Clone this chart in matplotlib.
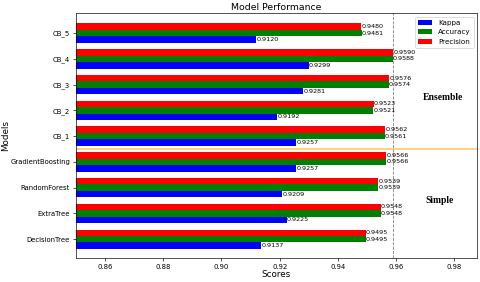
import numpy as np
import matplotlib
matplotlib.use('Agg')
import matplotlib.pyplot as plt

models = ['DecisionTree', 'ExtraTree', 'RandomForest', 'GradientBoosting',
          'CB_1', 'CB_2', 'CB_3', 'CB_4', 'CB_5']
kappa = [0.9137, 0.9225, 0.9209, 0.9257, 0.9257, 0.9192, 0.9281, 0.9299, 0.9120]
accuracy = [0.9495, 0.9548, 0.9539, 0.9566, 0.9561, 0.9521, 0.9574, 0.9588, 0.9481]
precision = [0.9495, 0.9548, 0.9539, 0.9566, 0.9562, 0.9523, 0.9576, 0.9590, 0.9480]

y = np.arange(len(models))
h = 0.25

plt.rcParams['font.size'] = 8.3
fig, ax = plt.subplots(figsize=(8, 4.7), dpi=60)

b1 = ax.barh(y - h, kappa, h, color='blue', label='Kappa')
b2 = ax.barh(y, accuracy, h, color='green', label='Accuracy')
b3 = ax.barh(y + h, precision, h, color='red', label='Precision')

for bars in (b1, b2, b3):
    for bar in bars:
        w = bar.get_width()
        ax.text(w, bar.get_y() + bar.get_height() / 2, '%.4f' % w,
                va='center', ha='left', fontsize=7.6)

best = max(precision)
ax.axvline(best, color='gray', linestyle='--', linewidth=1)
ax.axhline(3.5, color='orange', alpha=0.6, linewidth=2)

ax.text(0.976, 5.5, 'Ensemble', fontsize=11.5, fontweight='bold',
        family='Liberation Serif', ha='center', va='center')
ax.text(0.975, 1.5, 'Simple', fontsize=11.5, fontweight='bold',
        family='Liberation Serif', ha='center', va='center')

ax.set_yticks(y)
ax.set_yticklabels(models)
ax.set_xlim(0.85, best * 1.03)
ax.set_ylim(-0.72, 8.77)
ax.set_xlabel('Scores', fontsize=10.5, labelpad=1)
ax.set_ylabel('Models', fontsize=10.5)
ax.yaxis.set_label_coords(-0.165, 0.5)
ax.set_title('Model Performance', fontsize=11.2, pad=4)
ax.legend(loc='upper right', fontsize=8.5)

plt.subplots_adjust(left=0.158, right=0.994, top=0.953, bottom=0.086)
plt.savefig('out.png', dpi=60)
